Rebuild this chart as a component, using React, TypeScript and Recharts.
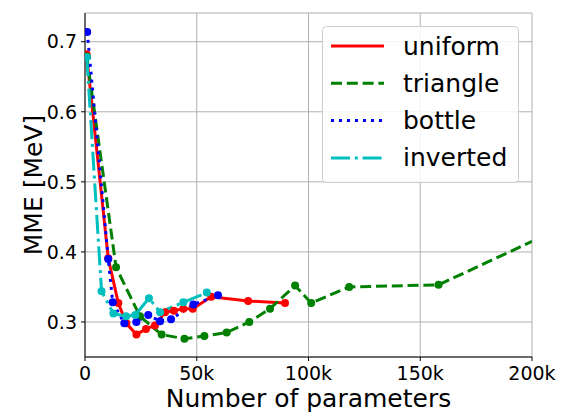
import { LineChart, Line, XAxis, YAxis, CartesianGrid } from 'recharts'

// values (x in parameters, y in MeV)
const uniformX = [700, 10400, 14900, 18500, 23000, 27300, 31300, 35800, 39800, 44000, 48200, 56500, 73000, 89500]
const uniformY = [0.682, 0.391, 0.327, 0.298, 0.282, 0.290, 0.295, 0.314, 0.316, 0.319, 0.319, 0.336, 0.330, 0.327]

const triangleX = [800, 13900, 24600, 34300, 44500, 53400, 63400, 73500, 82800, 94000, 101200, 118200, 158200, 200000]
const triangleY = [0.679, 0.378, 0.308, 0.282, 0.276, 0.280, 0.285, 0.300, 0.319, 0.352, 0.327, 0.350, 0.353, 0.415]

const bottleX = [1000, 10400, 12400, 17600, 23000, 28300, 33600, 38500, 48500, 59500]
const bottleY = [0.714, 0.390, 0.328, 0.298, 0.300, 0.310, 0.301, 0.304, 0.325, 0.338]

const invertedX = [800, 7400, 12700, 18400, 22500, 28600, 33600, 44000, 54500]
const invertedY = [0.678, 0.344, 0.312, 0.308, 0.310, 0.334, 0.314, 0.328, 0.342]

const xTicks = [0, 50000, 100000, 150000, 200000]
const yTicks = [0.3, 0.4, 0.5, 0.6, 0.7]

const FONT = '"DejaVu Sans", sans-serif'

const zip = (xs: number[], ys: number[]) => xs.map((x, i) => ({ x, y: ys[i] }))

const series = [
  { key: 'uniform', data: zip(uniformX, uniformY), color: '#ff0000', dash: undefined as string | undefined, lastDot: true },
  { key: 'triangle', data: zip(triangleX, triangleY), color: '#008000', dash: '11 4.8', lastDot: false },
  { key: 'bottle', data: zip(bottleX, bottleY), color: '#0000ff', dash: '3 5', lastDot: true },
  { key: 'inverted', data: zip(invertedX, invertedY), color: '#00bfbf', dash: '19 4.8 3 4.8', lastDot: true },
]

function makeDot(color: string, n: number, lastDot: boolean) {
  return (p: any) => {
    if (!lastDot && p.index === n - 1) return <g key={`d${p.index}`} />
    return <circle key={`d${p.index}`} cx={p.cx} cy={p.cy} r={4} fill={color} stroke="none" />
  }
}

// legend drawn by hand so it floats over the plot like matplotlib's
function LegendBox() {
  return (
    <svg width={197} height={157} style={{ position: 'absolute', left: 322, top: 26 }}>
      <rect x={0.5} y={0.5} width={196} height={156} rx={4} fill="#ffffff" fillOpacity={0.85} stroke="#cccccc" />
      {series.map((s, i) => {
        const cy = 20 + i * 37.3
        return (
          <g key={s.key}>
            <line x1={9} x2={62} y1={cy} y2={cy} stroke={s.color} strokeWidth={3} strokeDasharray={s.dash} />
            <text x={81} y={cy} dominantBaseline="central" fontFamily={FONT} fontSize={25} fill="#000">
              {s.key}
            </text>
          </g>
        )
      })}
    </svg>
  )
}

export default function App() {
  return (
    <div style={{ position: 'absolute', left: 0, top: 0, width: 571, height: 412, background: '#fff' }}>
      <LineChart width={571} height={412} margin={{ top: 13, right: 39, bottom: 0, left: 0 }}>
        <CartesianGrid stroke="#b0b0b0" strokeWidth={1} />
        <XAxis
          type="number"
          dataKey="x"
          domain={[0, 200000]}
          ticks={xTicks}
          allowDataOverflow
          height={55}
          tickSize={4}
          tickMargin={6}
          stroke="#000"
          tick={{ fill: '#000', fontSize: 19, fontFamily: FONT }}
          tickFormatter={(v: number) => (v === 0 ? '0' : `${v / 1000}k`)}
          label={{ value: 'Number of parameters', position: 'insideBottom', offset: 5, fill: '#000', fontSize: 25, fontFamily: FONT }}
        />
        <XAxis xAxisId="top" orientation="top" type="number" domain={[0, 200000]} height={0} tick={false} tickLine={false} stroke="#000" />
        <YAxis
          type="number"
          domain={[0.25, 0.741]}
          ticks={yTicks}
          allowDataOverflow
          width={85}
          tickSize={4}
          tickMargin={4}
          stroke="#000"
          tick={{ fill: '#000', fontSize: 19, fontFamily: FONT }}
          tickFormatter={(v: number) => v.toFixed(1)}
          label={{ value: 'MME [MeV]', angle: -90, position: 'insideLeft', offset: 33, fill: '#000', fontSize: 25, fontFamily: FONT, style: { textAnchor: 'middle' } }}
        />
        <YAxis yAxisId="right" orientation="right" type="number" domain={[0, 1]} width={0} tick={false} tickLine={false} stroke="#000" />
        {series.map(s => (
          <Line
            key={s.key}
            data={s.data}
            dataKey="y"
            name={s.key}
            type="linear"
            stroke={s.color}
            strokeWidth={3}
            strokeDasharray={s.dash}
            dot={makeDot(s.color, s.data.length, s.lastDot)}
            activeDot={false}
            isAnimationActive={false}
          />
        ))}
      </LineChart>
      <LegendBox />
    </div>
  )
}
